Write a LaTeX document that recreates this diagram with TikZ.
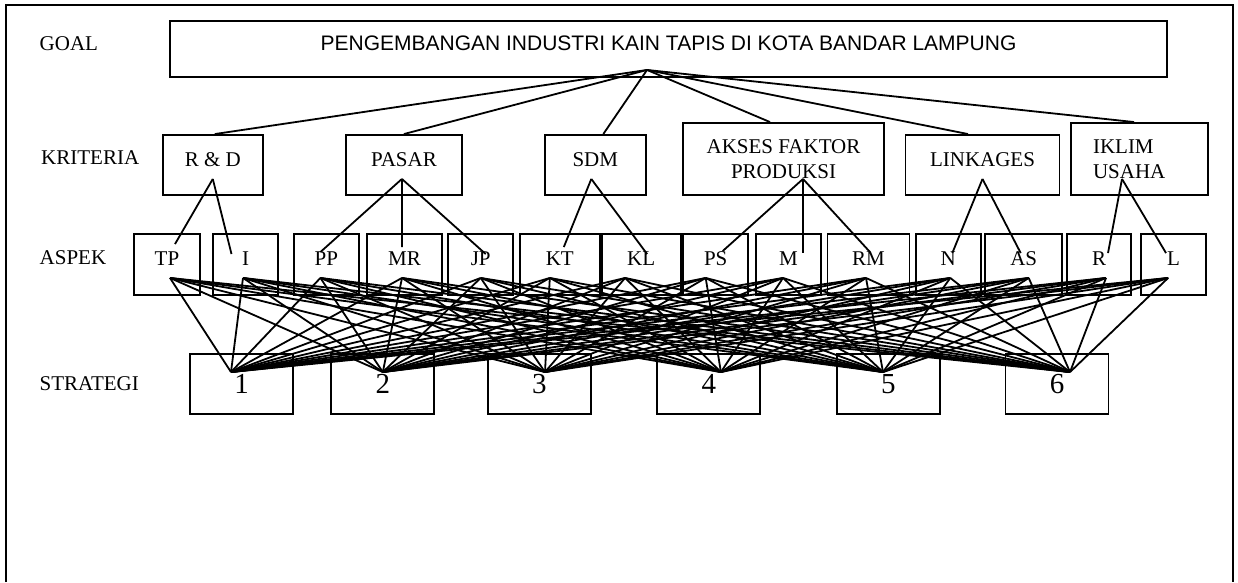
\documentclass[tikz,border=0pt]{standalone}
\usepackage{fontspec}
\setmainfont{Liberation Serif}
\newfontfamily\goalfont{Liberation Sans}
\usetikzlibrary{positioning}

\tikzset{
  kotak/.style={draw,line width=1.9pt,inner sep=0pt,font=\fontsize{21}{25}\selectfont},
  garis/.style={line width=1.8pt},
  level/.style={anchor=west,inner sep=0pt,font=\fontsize{21}{25}\selectfont},
}

\begin{document}
\begin{tikzpicture}[x=1pt,y=-1pt]
  \useasboundingbox (0,0) rectangle (1238,582);
  % frame, open at the bottom
  \draw[line width=2pt] (6,582) -- (6,4.5) -- (1232.5,4.5) -- (1232.5,582);

  % level labels
  \node[level] (lgoal) at (39.5,43.5) {GOAL};
  \node[level] (lkrit) at (41,158) {KRITERIA};
  \node[level] (lasp) at (39.5,257.5) {ASPEK};
  \node[level] (lstr) at (39.5,383.5) {STRATEGI};

  % goal
  \node[kotak,minimum width=997,minimum height=56,text height=15pt,text depth=11.4pt,
        font=\goalfont\fontsize{21}{25}\selectfont] (goal) at (668.5,49)
        {PENGEMBANGAN INDUSTRI KAIN TAPIS DI KOTA BANDAR LAMPUNG};

  % kriteria
  \node[kotak,minimum width=100.4,minimum height=60,text height=14pt,text depth=12pt] (RD) at (212.8,165) {R \& D};
  \node[kotak,minimum width=116,minimum height=60,text height=14pt,text depth=12pt] (PASAR) at (403.9,165) {PASAR};
  \node[kotak,minimum width=101,minimum height=60,text height=14pt,text depth=12pt] (SDM) at (595.3,165) {SDM};
  \node[kotak,minimum width=201,minimum height=72,align=center] (AKSES) at (783.5,159) {AKSES FAKTOR\\PRODUKSI};
  \node[kotak,minimum width=154,minimum height=60,text height=14pt,text depth=12pt] (LINK) at (982.5,165) {LINKAGES};
  \node[kotak,minimum width=136.6,minimum height=72,align=left,text width=93.4pt] (IKLIM) at (1139.7,159) {IKLIM\\USAHA};

  % aspek
  \foreach \n/\x/\w in {TP/167/66, I/245.5/65, PP/326.4/65.3, MR/404.5/75, JP/480.7/64.6,
      KT/559.8/80.5, KL/641.1/79, PS/715.7/65.4, M/788.5/65, RM/868.5/82,
      N/948.3/64.6, AS/1023.7/76.7, R/1099/63.2, L/1173.6/65.6}
    \node[kotak,minimum width=\w,minimum height=61,text height=14pt,text depth=13pt] (\n) at (\x,264.5) {\n};

  % strategi
  \foreach \s/\x in {1/241.6, 2/382.8, 3/539.3, 4/708.9, 5/888.3, 6/1057}
    \node[kotak,minimum width=103,minimum height=60,font=\fontsize{29}{33}\selectfont] (s\s) at (\x,384) {\s};

  % connection points
  \coordinate (gp) at ([xshift=-21.5,yshift=8]goal.south);
  \foreach \k/\a/\b in {RD/2/0, PASAR/0/-2, SDM/8/-4, AKSES/-13.5/19.5, LINK/-14.5/0, IKLIM/-5.7/-17.7} {
    \coordinate (\k-t) at ([xshift=\a]\k.north);
    \coordinate (\k-b) at ([xshift=\b,yshift=17]\k.south);
  }
  \foreach \n/\a/\ay/\b in {TP/8/-11/3, I/-14/-21/-2.5, PP/-6/-19/-6, MR/-2.5/-14/-2.5,
      JP/5/-21/0, KT/4/-14/-10, KL/6/-21/-16, PS/7/-18/-10, M/14.5/-20/-5.5,
      RM/1.5/-19/-2.5, N/4/-20/2, AS/-3/-20/5, R/9/-20/7, L/-7.6/-20/-5.5} {
    \coordinate (\n-t) at ([xshift=\a,yshift=\ay]\n.north);
    \coordinate (\n-b) at ([xshift=\b,yshift=18]\n.south);
  }
  \foreach \s/\a in {1/-10.6, 2/0, 3/5.7, 4/12, 5/-5.3, 6/13}
    \coordinate (s\s-t) at ([xshift=\a,yshift=-19]s\s.north);

  % goal -> kriteria
  \foreach \k in {RD,PASAR,SDM,AKSES,LINK,IKLIM}
    \draw[garis] (gp) -- (\k-t);
  % kriteria -> aspek
  \foreach \k/\n in {RD/TP, RD/I, PASAR/PP, PASAR/MR, PASAR/JP, SDM/KT, SDM/KL,
      AKSES/PS, AKSES/M, AKSES/RM, LINK/N, LINK/AS, IKLIM/R, IKLIM/L}
    \draw[garis] (\k-b) -- (\n-t);
  % aspek -> strategi, every pair
  \foreach \n in {TP,I,PP,MR,JP,KT,KL,PS,M,RM,N,AS,R,L}
    \foreach \s in {1,...,6}
      \draw[garis] (\n-b) -- (s\s-t);
\end{tikzpicture}
\end{document}
